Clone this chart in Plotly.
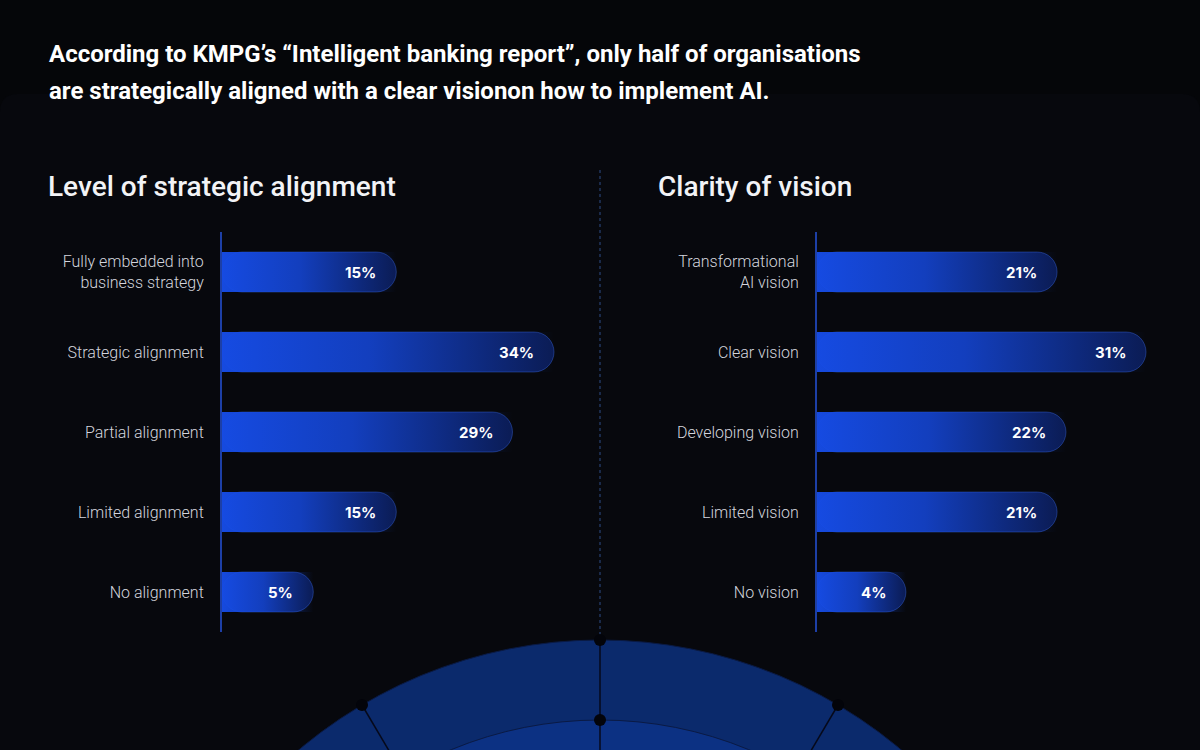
import plotly.graph_objects as go

# data
align_labels = ["Fully embedded into<br>business strategy", "Strategic alignment",
                "Partial alignment", "Limited alignment", "No alignment"]
align_values = [15, 34, 29, 15, 5]

vision_labels = ["Transformational<br>AI vision", "Clear vision",
                 "Developing vision", "Limited vision", "No vision"]
vision_values = [21, 31, 22, 21, 4]

title_lines = [
    "According to KMPG’s “Intelligent banking report”, only half of organisations",
    "are strategically aligned with a clear visionon how to implement AI.",
]
left_heading = "Level of strategic alignment"
right_heading = "Clarity of vision"

W, H = 1200, 750
BASE = -6  # bars start a little left of zero so short values still hold their label
BG = "#050609"
BAR_DARK = "#0b1c55"
BAR_BRIGHT = "rgba(22,76,230,{})"


def px(x):
    return x / W


def py(y):
    return 1 - y / H


fig = go.Figure()

panels = [
    # values, labels, axis suffix, left px of axis, px per unit
    (align_values, align_labels, "", 222, 332 / (34 - BASE)),
    (vision_values, vision_labels, "2", 817, 329 / (31 - BASE)),
]

annotations = []
for values, labels, ax, x_left, ppu in panels:
    xa, ya = "x" + ax, "y" + ax
    pos = list(range(len(values)))
    fig.add_trace(go.Bar(
        x=[v - BASE for v in values], y=pos, base=BASE, orientation="h",
        width=0.5, marker=dict(color=BAR_DARK, cornerradius=20,
                               line=dict(color="rgba(70,120,255,0.35)", width=1)),
        xaxis=xa, yaxis=ya, hoverinfo="skip", showlegend=False,
    ))
    # gradient sheen over each bar
    for v, p in zip(values, pos):
        fig.add_trace(go.Scatter(
            x=[BASE, v, v, BASE, BASE], y=[p - 0.25, p - 0.25, p + 0.25, p + 0.25, p - 0.25],
            mode="lines", line=dict(width=0), fill="toself",
            fillgradient=dict(type="horizontal", colorscale=[
                [0, BAR_BRIGHT.format(0.97)], [0.45, BAR_BRIGHT.format(0.72)],
                [1, BAR_BRIGHT.format(0)]]),
            xaxis=xa, yaxis=ya, hoverinfo="skip", showlegend=False,
        ))
        annotations.append(dict(
            x=v, y=p, xref=xa, yref=ya, text=f"<b>{v}%</b>", showarrow=False,
            xanchor="right", xshift=-18, font=dict(family="Inter", size=15, color="white"),
        ))

    x_right = x_left + 358
    axis_x = dict(domain=[px(x_left), px(x_right)],
                  range=[BASE, BASE + (x_right - x_left) / ppu],
                  visible=False, fixedrange=True)
    axis_y = dict(domain=[py(632), py(232)], range=[len(values) - 0.5, -0.5],
                  tickvals=pos, ticktext=labels, showgrid=False, zeroline=False,
                  showline=True, linecolor="#1d3fa6", linewidth=2, ticks="",
                  ticklabelstandoff=13, fixedrange=True,
                  tickfont=dict(family="Roboto", size=16, color="#d3d5dd", weight=300))
    if ax:
        axis_x["anchor"] = "y2"
        axis_y["anchor"] = "x2"
    fig.update_layout(**{"xaxis" + ax: axis_x, "yaxis" + ax: axis_y})

# text blocks
for i, line in enumerate(title_lines):
    annotations.append(dict(
        x=px(47), y=py(54 + 37 * i), xref="paper", yref="paper", text=line,
        showarrow=False, xanchor="left", yanchor="middle",
        font=dict(family="Roboto", size=24, color="white", weight=700),
    ))
for txt, x0 in [(left_heading, 46), (right_heading, 656)]:
    annotations.append(dict(
        x=px(x0), y=py(186), xref="paper", yref="paper", text=txt, showarrow=False,
        xanchor="left", yanchor="middle",
        font=dict(family="Roboto", size=28, color="#f2f3f6", weight=500),
    ))

shapes = [
    # faint panel behind the charts
    dict(type="path", xref="paper", yref="paper", layer="below",
         path=f"M {px(0)},{py(760)} L {px(0)},{py(112)} Q {px(0)},{py(94)} {px(18)},{py(94)} "
              f"L {px(1182)},{py(94)} Q {px(1200)},{py(94)} {px(1200)},{py(112)} "
              f"L {px(1200)},{py(760)} Z",
         fillcolor="#07080d", line=dict(width=0)),
    # dotted divider
    dict(type="line", xref="paper", yref="paper", x0=0.5, x1=0.5, y0=py(170), y1=py(640),
         line=dict(color="#1a2a4a", width=2, dash="dot")),
]

# decorative arcs at the bottom
cx, cy = 600, 1108
for r, col in [(468, "#0b2a6c"), (388, "#0c3183")]:
    shapes.append(dict(type="circle", xref="paper", yref="paper",
                       x0=px(cx - r), x1=px(cx + r), y0=py(cy + r), y1=py(cy - r),
                       fillcolor=col, line=dict(color="#0a1a44", width=1)))
for ex, ey in [(362, 705), (838, 705), (600, 640)]:
    shapes.append(dict(type="line", xref="paper", yref="paper",
                       x0=px(ex), y0=py(ey), x1=px(cx), y1=py(cy),
                       line=dict(color="#06091a", width=1.5)))
for dx, dy in [(600, 640), (600, 720), (362, 705), (838, 705)]:
    shapes.append(dict(type="circle", xref="paper", yref="paper",
                       x0=px(dx - 6), x1=px(dx + 6), y0=py(dy + 6), y1=py(dy - 6),
                       fillcolor="#03040a", line=dict(width=0)))

fig.update_layout(
    width=W, height=H, margin=dict(l=0, r=0, t=0, b=0),
    paper_bgcolor=BG, plot_bgcolor="rgba(0,0,0,0)",
    barmode="overlay", showlegend=False,
    annotations=annotations, shapes=shapes,
)

# the page's default body margin would push the figure 8px in
fig.write_html("out.html", config={"displayModeBar": False},
               post_script="document.body.style.margin = '0';")
